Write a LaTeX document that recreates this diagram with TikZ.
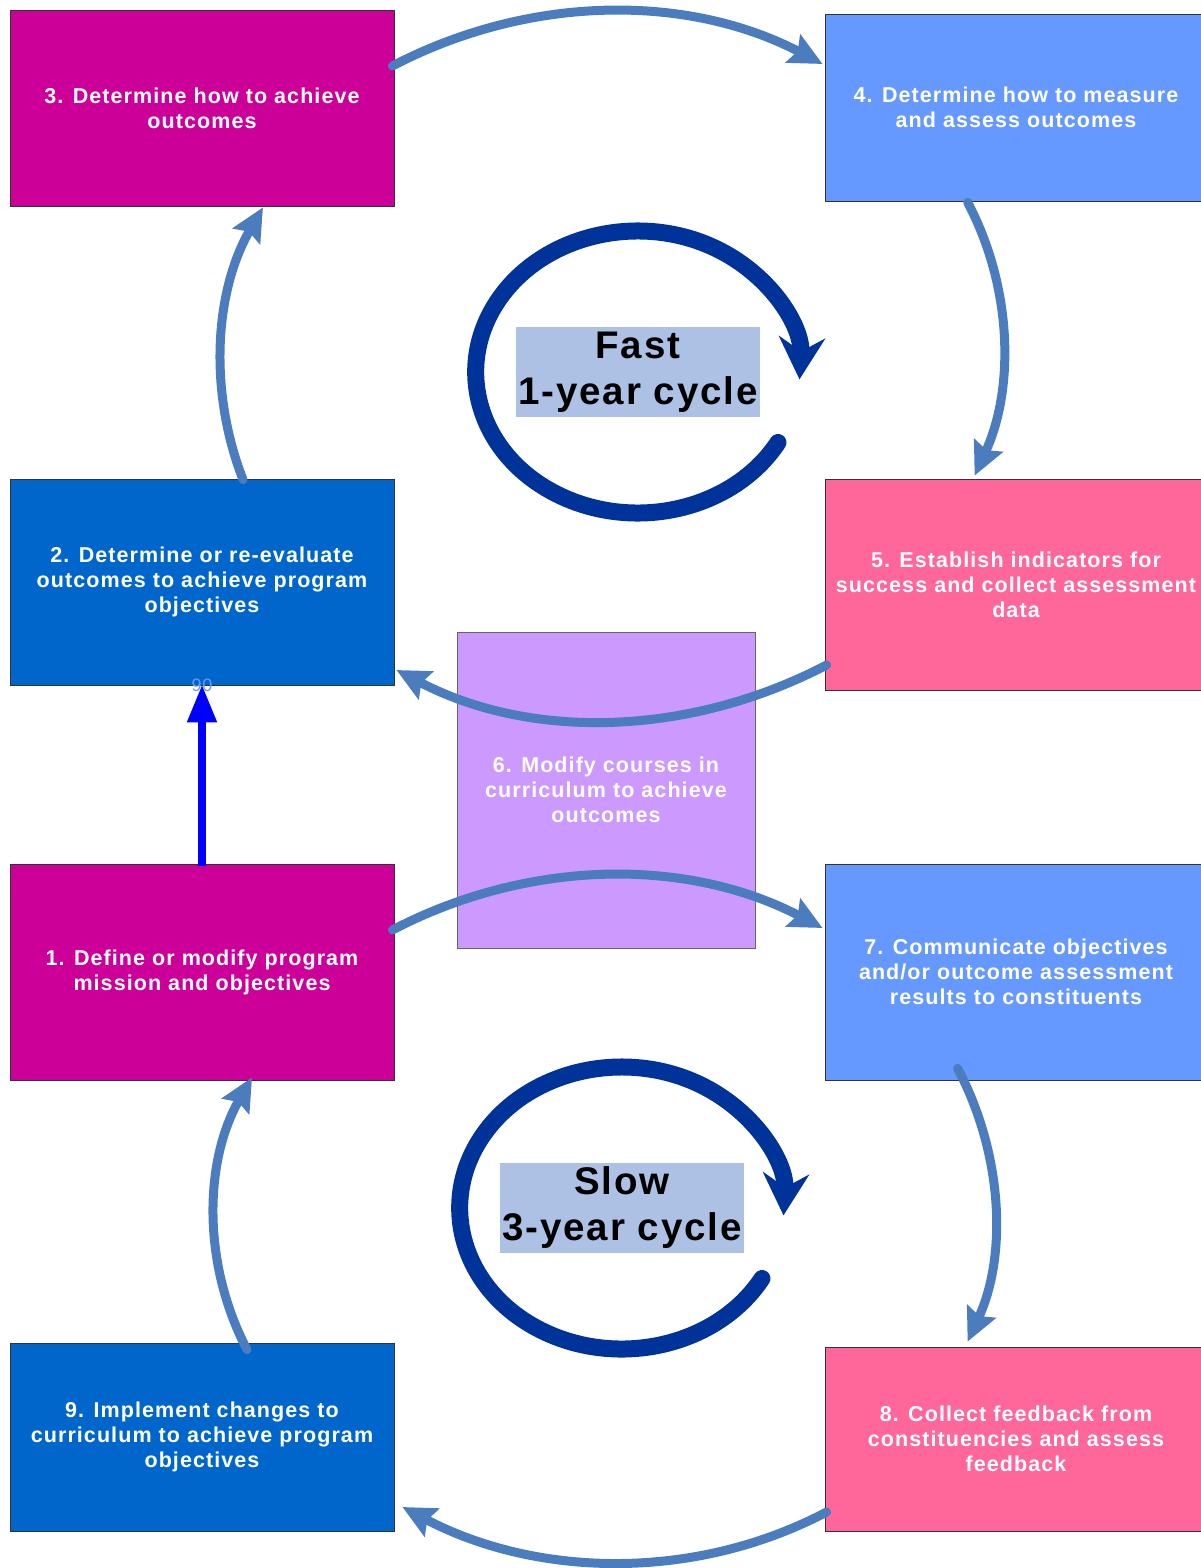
\documentclass[tikz,border=0pt]{standalone}
\usepackage{fontspec}
\setmainfont{Liberation Sans}[LetterSpace=5]
\usetikzlibrary{arrows.meta,calc}

\definecolor{stepmagenta}{HTML}{CC0099}
\definecolor{steplight}{HTML}{6699FF}
\definecolor{stepblue}{HTML}{0066CC}
\definecolor{steppink}{HTML}{FF6699}
\definecolor{steplilac}{HTML}{CC99FF}
\definecolor{flowblue}{RGB}{74,124,190}
\definecolor{cycleblue}{HTML}{003399}
\definecolor{cyclebg}{RGB}{172,193,227}

\begin{document}
\begin{tikzpicture}[
    x=1pt, y=-1pt,
    step_box/.style={draw=black!80, line width=0.8pt, text=white, align=center, inner sep=0pt,
        font=\bfseries\fontsize{21.5}{25}\selectfont},
    left_box/.style={step_box, minimum width=384pt},
    right_box/.style={step_box, minimum width=382pt},
    flow_edge/.style={draw=flowblue, line width=9pt, line cap=round,
        -{Stealth[length=33pt, width=31pt, inset=5pt]}},
    cycle_arrow/.style={draw=cycleblue, line width=17pt, line cap=round,
        -{Stealth[length=42pt, width=46pt, inset=14pt]}},
    cycle_label/.style={fill=cyclebg, align=center, inner sep=0pt, minimum width=244pt,
        minimum height=90pt, font=\bfseries\fontsize{38.5}{46}\selectfont}
]
\useasboundingbox (0,0) rectangle (1201,1568);

% --- NODES ---
\node[left_box, fill=stepmagenta, minimum height=196pt] (achieve) at (202,108) {3. Determine how to achieve\\outcomes};
\node[right_box, fill=steplight, minimum height=187pt] (measure) at (1016,107.5) {4. Determine how to measure\\and assess outcomes};
\node[left_box, fill=stepblue, minimum height=206pt] (outcomes) at (202,582) {2. Determine or re-evaluate\\outcomes to achieve program\\objectives};
\node[right_box, fill=steppink, minimum height=211pt] (collect) at (1016,584.5) {5. Establish indicators for\\success and collect assessment\\data};
\node[step_box, draw=black!60, fill=steplilac, minimum width=298pt, minimum height=316pt] (courses) at (606,790) {6. Modify courses in\\curriculum to achieve\\outcomes};
\node[left_box, fill=stepmagenta, minimum height=216pt] (mission) at (202,972) {1. Define or modify program\\mission and objectives};
\node[right_box, fill=steplight, minimum height=216pt] (communicate) at (1016,972) {7. Communicate objectives\\and/or outcome assessment\\results to constituents};
\node[left_box, fill=stepblue, minimum height=188pt] (implement) at (202,1437) {9. Implement changes to\\curriculum to achieve program\\objectives};
\node[right_box, fill=steppink, minimum height=184pt] (feedback) at (1016,1439) {8. Collect feedback from\\constituencies and assess\\feedback};

% fast and slow cycles
\coordinate (fast_c) at (638,372);
\coordinate (fast_start) at (778,442.5);
\coordinate (slow_c) at (622,1208);
\coordinate (slow_start) at (762,1278.5);
\draw[cycle_arrow] (fast_start) arc[start angle=30, end angle=363, x radius=162, y radius=141];
\draw[cycle_arrow] (slow_start) arc[start angle=30, end angle=363, x radius=162, y radius=141];
\node[cycle_label] (fast_lbl) at (fast_c) {Fast\\1-year cycle};
\node[cycle_label] (slow_lbl) at (slow_c) {Slow\\3-year cycle};

% --- EDGES ---
\draw[flow_edge] ($(achieve.east)+(-2,-42)$) .. controls +(136,-71) and +(-136,-71) .. ($(measure.west)+(-2,-43.5)$);
\draw[flow_edge] ($(measure.south west)+(143,1)$) .. controls +(45,85) and +(40,-87) .. ($(collect.north west)+(150,-3)$);
\draw[flow_edge] ($(collect.west)+(2,80.5)$) .. controls +(-136,71) and +(136,71) .. ($(outcomes.east)+(2,88)$);
\draw[flow_edge] ($(outcomes.north)+(41,1)$) .. controls +(-35,-90) and +(-48,83) .. ($(achieve.south)+(61,1)$);

\draw[flow_edge] ($(mission.east)+(-2,-42)$) .. controls +(136,-71) and +(-136,-71) .. ($(communicate.west)+(-2,-44)$);
\draw[flow_edge] ($(communicate.south west)+(133,-12)$) .. controls +(45,85) and +(40,-87) .. ($(feedback.north west)+(143,-5)$);
\draw[flow_edge] ($(feedback.west)+(2,73)$) .. controls +(-133,70) and +(133,70) .. ($(implement.east)+(8,70)$);
\draw[flow_edge] ($(implement.north)+(45,7)$) .. controls +(-45,-86) and +(-48,84) .. ($(mission.south)+(50,-3)$);

\draw[blue, line width=8pt, -{Triangle[length=38pt, width=28pt]}] ($(mission.north)+(0,2)$) -- ($(outcomes.south)+(0,-1)$);
\node[text=steplight, inner sep=0pt, font=\fontsize{18}{18}\selectfont] (angle_lbl) at (outcomes.south) {90};

\end{tikzpicture}
\end{document}
